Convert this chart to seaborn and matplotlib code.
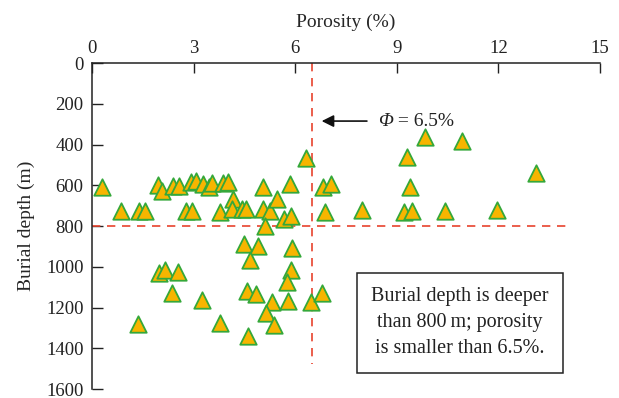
import numpy as np
import pandas as pd
import matplotlib
matplotlib.use('Agg')
import matplotlib.pyplot as plt
import seaborn as sns

# porosity (%) and burial depth (m)
porosity = [6.32, 9.30, 9.84, 10.93, 13.10,
            0.30, 1.96, 2.06, 2.40, 2.58, 2.91, 3.07, 3.28, 3.46, 3.53, 3.86, 4.02,
            5.05, 5.84, 6.82, 7.07, 9.40,
            0.85, 1.40, 1.56, 2.77, 2.95, 3.78, 4.17, 4.12, 4.42, 4.56, 5.05, 5.25,
            5.47, 5.66, 5.89, 5.12, 6.87, 7.98, 9.20, 9.46, 10.43, 11.96,
            4.50, 4.91, 4.66, 5.91, 5.89, 5.76, 1.98, 2.15, 2.55, 2.35, 3.25, 1.37,
            3.78, 4.59, 4.84, 5.33, 5.79, 6.47, 6.78, 5.15, 5.37, 4.60]
depth = [468, 460, 362, 381, 542,
         610, 599, 627, 604, 604, 583, 578, 594, 610, 588, 590, 584,
         610, 594, 607, 594, 607,
         725, 725, 725, 725, 725, 730, 669, 718, 718, 718, 718, 725,
         669, 767, 751, 800, 730, 722, 730, 725, 727, 722,
         890, 900, 967, 910, 1016, 1073, 1032, 1016, 1024, 1127, 1163, 1281,
         1275, 1121, 1134, 1172, 1167, 1172, 1131, 1226, 1284, 1340]

phi_limit = 6.5
depth_limit = 800
x_ticks = [0, 3, 6, 9, 12, 15]
y_ticks = [0, 200, 400, 600, 800, 1000, 1200, 1400, 1600]

df = pd.DataFrame({'Porosity': porosity, 'Depth': depth})

sns.set_style('ticks')
plt.rcParams['font.family'] = ['Liberation Serif', 'DejaVu Serif']

fig = plt.figure(figsize=(6.19, 3.98), dpi=100)
ax = fig.add_axes([0.1486, 0.0226, 0.8207, 0.8191])

red = '#e8432e'
ax.plot([0, 14.1], [depth_limit, depth_limit], ls=(0, (5, 4)), color=red, lw=1.2, zorder=1)
ax.plot([phi_limit, phi_limit], [0, 1475], ls=(0, (5, 4)), color=red, lw=1.2, zorder=1)

sns.scatterplot(data=df, x='Porosity', y='Depth', marker='^', s=140,
                color='#f7b500', edgecolor='#35a83a', linewidth=1.3, ax=ax, zorder=3)

ax.set_xlim(0, 15)
ax.set_ylim(1600, 0)
ax.set_xticks(x_ticks)
ax.set_yticks(y_ticks)
ax.xaxis.set_label_position('top')
ax.xaxis.tick_top()
ax.tick_params(axis='x', direction='in', length=7, width=1, labelsize=13.5, pad=4, colors='#222222')
ax.tick_params(axis='y', direction='in', length=8, width=1, labelsize=13.5, pad=6, colors='#222222')
ax.set_xlabel('Porosity (%)', fontsize=14, labelpad=10)
ax.set_ylabel('Burial depth (m)', fontsize=14, labelpad=8)

for side in ['right', 'bottom']:
    ax.spines[side].set_visible(False)
for side in ['left', 'top']:
    ax.spines[side].set_linewidth(1.1)
    ax.spines[side].set_color('#222222')

ax.annotate('', xy=(6.7, 285), xytext=(8.2, 285),
            arrowprops=dict(arrowstyle='-|>', color='#111111', lw=1.2, mutation_scale=18))
phi_txt = ax.text(8.45, 285, '\u03a6', fontsize=14, style='italic', va='center', ha='left', color='#222222')
ax.annotate(' = 6.5%', xy=(1, 0.5), xycoords=phi_txt, fontsize=14, va='center', ha='left', color='#222222')

ax.text(10.86, 1276, 'Burial depth is deeper\nthan 800\u2009m; porosity\nis smaller than 6.5%.',
        fontsize=14.5, ha='center', va='center', linespacing=1.5, color='#222222',
        bbox=dict(boxstyle='square,pad=0.7', facecolor='white', edgecolor='#222222', lw=1.1))

fig.savefig('out.png', dpi=100)
